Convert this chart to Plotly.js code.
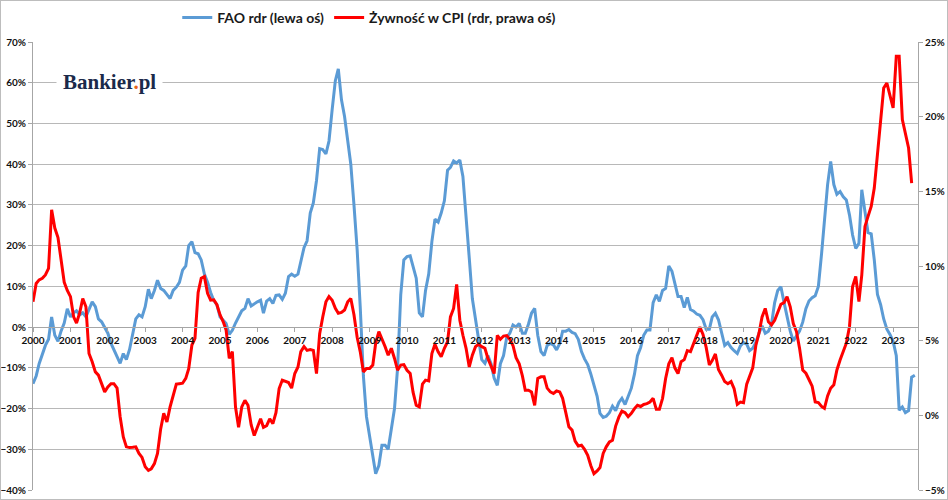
<!DOCTYPE html>
<html>
<head>
<meta charset="utf-8">
<script src="https://cdn.plot.ly/plotly-3.0.1.min.js"></script>
<style>
  html, body { margin: 0; padding: 0; background: #fff; }
  #chart { width: 948px; height: 500px; box-sizing: border-box; border: 1px solid #bdbdbd; }
</style>
</head>
<body>
<div id="chart"></div>
<script>
// monthly series, starting January 2000
var startYear = 2000;
var years = [2000, 2001, 2002, 2003, 2004, 2005, 2006, 2007, 2008, 2009, 2010, 2011,
             2012, 2013, 2014, 2015, 2016, 2017, 2018, 2019, 2020, 2021, 2022, 2023];

// FAO food price index, y/y % (left axis)
var faoRdr = [
  -13.9, -12, -9, -6.5, -4.5, -3, 2.5, -2, -3.5, -1, 1, 4.5,          // 2000
  2.5, 3.5, 4, 3, 3.5, 2.5, 4.5, 6.2, 5, 2, 1.3, 0,                     // 2001
  -1.5, -4, -5.5, -7, -8.9, -6.5, -8, -5.5, -1.5, 2, 3, 2.5,           // 2002
  5, 9.3, 7, 9, 11.5, 9.5, 9, 8, 7, 9, 9.8, 11,                         // 2003
  14, 15, 20, 21, 18.3, 18, 16.5, 13, 11, 8.5, 6.5, 5.5,                // 2004
  2.5, 1.7, 0.9, -1.8, -0.8, 1, 2.5, 4, 4.6, 7, 5.2, 5.8,               // 2005
  6.2, 6.6, 3.4, 6.4, 7, 5.8, 7.8, 7.9, 6.8, 8.3, 12.4, 13,             // 2006
  12.5, 13, 16.5, 19.5, 21.2, 28, 30.5, 36, 43.8, 43.6, 42.5, 45.7,     // 2007
  53.4, 60.5, 63.4, 55.8, 51.7, 46, 40, 30, 19, 5, -12, -22,            // 2008
  -27, -32, -36, -34, -29, -29, -30, -25, -20, -10, 8, 16.5,            // 2009
  17.3, 17.5, 15, 12, 3.5, 2.5, 9, 13, 21, 26.5, 25.8, 28,              // 2010
  31, 38.5, 39.2, 40.8, 40.3, 41, 37, 26, 17, 7, 2, -3.5,               // 2011
  -8, -8.9, -7, -9, -12.5, -14.3, -9, -7, -2.5, -1.5, 0.5, 0,           // 2012
  0.9, -1.5, -1.5, 0.7, 3.4, 4.6, -2, -6, -7, -4.5, -4, -4.4,           // 2013
  -5.6, -4, -1, -1, -0.6, -1.3, -1.6, -3, -6, -7.8, -9.2, -11.5,        // 2014
  -14, -17, -21.2, -22.2, -21.9, -21, -19.4, -20.5, -18.5, -17.5, -19, -17, // 2015
  -15, -11.5, -7, -5, -2, -0.7, -0.7, 6, 7.9, 6.3, 9, 9.5,              // 2016
  15, 13.7, 10.5, 7.5, 7.5, 4.8, 7.3, 4.3, 3.9, 3.2, 2.9, 1.8,          // 2017
  -0.5, -0.5, 2.5, 3.4, 1.8, -1.2, -4.5, -3.8, -5, -5.8, -6.5, -4.6,    // 2018
  -3.8, -4.2, -5.8, -5.2, -3.8, -1.5, 0.3, -1.5, -1, 0.7, 6, 9,         // 2019
  9.9, 6, 2.5, -1, -3.4, -2, -1, 1.2, 4.5, 6.4, 7.2, 7.7,               // 2020
  10, 18, 25.5, 35, 40.7, 35, 32.6, 33.3, 32, 31.2, 27.5, 22.6,         // 2021
  19.3, 20.6, 33.7, 28.5, 23.2, 22.9, 16.5, 8, 5.5, 2, -0.5, -1.8,      // 2022
  -3.5, -7, -20.4, -19.6, -21, -20.5, -12.3, -11.8                      // 2023
];

// food in CPI (Poland), y/y % (right axis)
var zywnoscCpi = [
  7.6, 8.83, 9.07, 9.18, 9.4, 9.84, 13.76, 12.54, 11.91, 10.41, 8.91, 8.36,   // 2000
  7.95, 6.59, 6.18, 6.86, 7.82, 7.27, 4.14, 3.59, 2.91, 2.69, 2.12, 1.57,     // 2001
  1.9, 2.12, 2.12, 1.82, -0.09, -1.45, -2.11, -2.16, -2.14, -2.11, -2.55, -2.82, // 2002
  -3.45, -3.69, -3.58, -3.23, -2.55, -0.91, 0.13, -0.45, 0.56, 1.25, 2.09, 2.12, // 2003
  2.15, 2.47, 3.13, 4.71, 5.15, 8.23, 9.18, 9.29, 8.17, 7.71, 7.74, 7.41,     // 2004
  6.73, 6.26, 5.72, 3.81, 4.27, 0.56, -0.8, 0.56, 1.0, 0.67, -0.64, -1.35,    // 2005
  -0.8, -0.23, -0.8, -0.69, -0.23, -0.55, 0.18, 1.79, 2.36, 2.28, 2.2, 1.82,  // 2006
  2.8, 3.24, 4.27, 4.6, 4.35, 4.41, 4.35, 2.8, 5.47, 6.59, 7.6, 7.95,         // 2007
  7.71, 7.16, 6.84, 6.89, 7.05, 7.6, 7.82, 6.73, 5.23, 4.27, 2.91, 3.13,      // 2008
  3.13, 3.37, 4.82, 5.61, 5.15, 4.6, 4.03, 4.49, 3.81, 3.02, 3.37, 3.4,       // 2009
  3.02, 2.8, 1.55, 0.67, 0.56, 2.09, 2.36, 2.31, 4.14, 4.76, 4.25, 3.92,      // 2010
  4.49, 4.93, 6.59, 7.16, 8.77, 6.37, 5.36, 4.49, 3.24, 4.03, 4.6, 4.76,      // 2011
  4.6, 4.49, 3.81, 3.32, 2.8, 5.36, 5.09, 5.31, 5.34, 5.09, 4.68, 3.86,       // 2012
  3.45, 2.64, 1.68, 1.68, 1.57, 0.67, 2.47, 2.58, 2.58, 1.82, 1.57, 1.46,     // 2013
  1.63, 1.57, 1.14, 0.18, -0.77, -0.99, -1.73, -2.05, -2.0, -2.27, -2.68, -3.36, // 2014
  -3.91, -3.72, -3.5, -2.55, -2.11, -1.78, -1.67, -0.72, -0.12, 0.29, 0.18, -0.09, // 2015
  0.13, 0.45, 0.67, 0.59, 0.73, 0.78, 0.89, 1.14, 0.4, 0.4, 1.14, 2.47,       // 2016
  3.45, 3.86, 3.18, 2.8, 3.59, 3.73, 4.33, 4.27, 4.82, 5.36, 5.91, 5.42,      // 2017
  4.55, 3.37, 3.67, 4.11, 3.07, 2.69, 2.26, 2.12, 2.26, 1.79, 0.73, 0.89,     // 2018
  0.84, 2.09, 2.58, 3.18, 4.68, 5.5, 6.59, 7.16, 6.26, 6.05, 6.37, 6.84,      // 2019
  7.44, 7.55, 7.95, 7.27, 6.15, 5.61, 4.5, 3.04, 2.82, 2.4, 1.95, 0.9,        // 2020
  0.85, 0.6, 0.47, 1.3, 1.81, 2.04, 3.04, 3.71, 4.27, 4.83, 5.95, 8.63,       // 2021
  9.3, 7.62, 9.41, 12.65, 13.32, 13.99, 15.22, 17.56, 19.35, 21.92, 22.25, 21.36, // 2022
  20.58, 24.04, 24.04, 19.8, 18.9, 17.9, 15.55                                // 2023
];

function monthDates(n) {
  var out = [];
  for (var i = 0; i < n; i++) {
    var y = startYear + Math.floor(i / 12);
    var m = (i % 12) + 1;
    out.push(y + '-' + (m < 10 ? '0' + m : m) + '-01');
  }
  return out;
}

var tickFont = {family: 'Lato, "Open Sans", sans-serif', size: 10, color: '#111', weight: 'bold'};
var gridCol = '#b8b8b8';

var traceFao = {
  x: monthDates(faoRdr.length), y: faoRdr,
  name: 'FAO rdr (lewa oś)', type: 'scatter', mode: 'lines',
  line: {color: '#5b9bd5', width: 3}, yaxis: 'y'
};
var traceCpi = {
  x: monthDates(zywnoscCpi.length), y: zywnoscCpi,
  name: 'Żywność w CPI (rdr, prawa oś)', type: 'scatter', mode: 'lines',
  line: {color: '#ff0000', width: 3}, yaxis: 'y2'
};

var layout = {
  width: 946, height: 498,
  margin: {l: 32, r: 29, t: 41, b: 9, autoexpand: false},
  paper_bgcolor: '#fff', plot_bgcolor: '#fff',
  showlegend: true,
  legend: {
    orientation: 'h', x: 0.163, xanchor: 'left', y: 1.054, yanchor: 'middle',
    font: {family: 'Lato, "Open Sans", sans-serif', size: 14, color: '#1a1a1a', weight: 'bold'},
    itemwidth: 30, bgcolor: 'rgba(0,0,0,0)'
  },
  xaxis: {
    type: 'date',
    range: ['2000-01-01', '2023-09-01'],
    tickvals: years.map(function (y) { return y + '-01-01'; }),
    ticktext: years.map(String),
    anchor: 'free', position: 40 / 110,
    showgrid: false, zeroline: false,
    showline: true, linecolor: '#a6a6a6', linewidth: 1,
    ticks: 'outside', ticklen: 4, tickcolor: '#a6a6a6',
    tickfont: tickFont, fixedrange: true
  },
  yaxis: {
    range: [-40, 70], dtick: 10, ticksuffix: '%',
    showgrid: true, gridcolor: gridCol, gridwidth: 1, zeroline: false,
    showline: true, linecolor: '#a6a6a6', ticks: 'outside', ticklen: 4, tickcolor: '#a6a6a6',
    tickfont: tickFont
  },
  yaxis2: {
    range: [-5, 25], dtick: 5, ticksuffix: '%',
    overlaying: 'y', side: 'right', showgrid: false, zeroline: false,
    showline: true, linecolor: '#a6a6a6', ticks: 'outside', ticklen: 4, tickcolor: '#a6a6a6',
    tickfont: tickFont
  },
  annotations: [{
    xref: 'paper', yref: 'paper', x: 0.087, y: 0.911,
    xanchor: 'center', yanchor: 'middle',
    text: 'Bankier<span style="color:#e8651a">.</span>pl',
    showarrow: false, bgcolor: '#fff', borderpad: 6,
    font: {family: '"Liberation Serif", "DejaVu Serif", serif', size: 21, color: '#1b2a4a', weight: 'bold'}
  }]
};

Plotly.newPlot('chart', [traceFao, traceCpi], layout, {displayModeBar: false, staticPlot: true});
</script>
</body>
</html>
